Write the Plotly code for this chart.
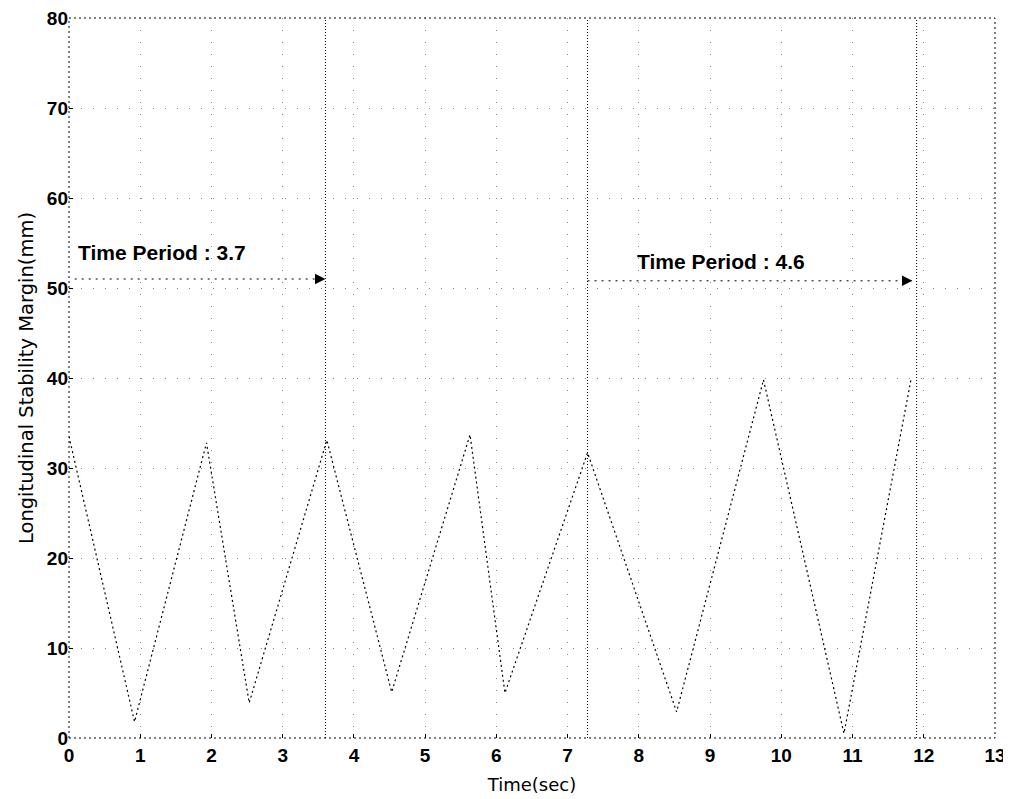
import plotly.graph_objects as go

# ---- data ----
time_s = [0.0, 0.92, 1.93, 2.53, 3.62, 4.53, 5.63, 6.12, 7.28, 8.53, 9.75, 10.88, 11.82]
margin_mm = [33.5, 1.8, 32.8, 3.9, 33.1, 5.1, 33.7, 5.0, 31.7, 2.9, 39.8, 0.5, 39.8]

period_marks_s = [3.6, 7.28, 11.9]          # vertical marker lines
period_arrow_start = [0.08, 7.28]
period_arrow_end = [3.6, 11.84]
period_arrow_y = [51.0, 50.8]
period_labels = ["Time Period : 3.7", "Time Period : 4.6"]
period_label_x = [0.1, 7.95]
period_label_y = [54.0, 53.0]

x_ticks = list(range(0, 14))
y_ticks = list(range(0, 81, 10))

fig = go.Figure()

# main signal
fig.add_trace(go.Scatter(
    x=time_s, y=margin_mm, mode="lines",
    line=dict(color="black", width=1.2, dash="2px,3px"),
    showlegend=False, hoverinfo="skip"))

# vertical period marker lines
for xm in period_marks_s:
    fig.add_trace(go.Scatter(
        x=[xm, xm], y=[y_ticks[0], y_ticks[-1]], mode="lines",
        line=dict(color="black", width=1, dash="1px,2px"),
        showlegend=False, hoverinfo="skip"))

# horizontal period arrows
for x0, x1, ya, lab, lx, ly in zip(period_arrow_start, period_arrow_end, period_arrow_y,
                                   period_labels, period_label_x, period_label_y):
    fig.add_trace(go.Scatter(
        x=[x0, x1], y=[ya, ya], mode="lines",
        line=dict(color="black", width=1, dash="2px,5px"),
        showlegend=False, hoverinfo="skip"))
    fig.add_annotation(x=x1, y=ya, ax=x1 - 0.12, ay=ya, xref="x", yref="y",
                       axref="x", ayref="y", showarrow=True, arrowhead=2,
                       arrowsize=1.3, arrowwidth=1.6, arrowcolor="black", text="")
    fig.add_annotation(x=lx, y=ly, xref="x", yref="y", text=lab, showarrow=False,
                       xanchor="left", yanchor="middle",
                       font=dict(family="Liberation Sans, Arial", size=21,
                                 color="black", weight="bold"))

# dotted frame
fig.add_shape(type="rect", xref="paper", yref="paper", x0=0, y0=0, x1=1, y1=1,
              line=dict(color="black", width=1, dash="2px,3px"), layer="above")

tick_font = dict(family="Liberation Sans, Arial", size=19, color="black", weight="bold")

fig.update_xaxes(
    range=[0, 13.0001], tickvals=x_ticks, ticktext=[str(v) for v in x_ticks],
    tickfont=tick_font, ticks="inside", ticklen=4, tickcolor="black",
    ticklabelstandoff=4, ticklabeloverflow="allow",
    showgrid=True, gridcolor="#888888", griddash="1px,11px", gridwidth=1,
    zeroline=False, showline=False,
    title=dict(text="Time(sec)", font=dict(family="DejaVu Sans", size=18, color="black"),
               standoff=13))
fig.update_yaxes(
    range=[0, 80], tickvals=y_ticks, ticktext=[str(v) for v in y_ticks],
    tickfont=tick_font, ticks="inside", ticklen=4, tickcolor="black",
    ticklabeloverflow="allow",
    showgrid=True, gridcolor="#888888", griddash="1px,11px", gridwidth=1,
    zeroline=False, showline=False,
    title=dict(text="Longitudinal Stability Margin(mm)",
               font=dict(family="DejaVu Sans", size=19.5, color="black"), standoff=8))

fig.update_layout(
    width=1003, height=791,
    margin=dict(l=61, r=16, t=10, b=61, autoexpand=False),
    paper_bgcolor="white", plot_bgcolor="white",
    showlegend=False)

fig.write_html("out.html")
